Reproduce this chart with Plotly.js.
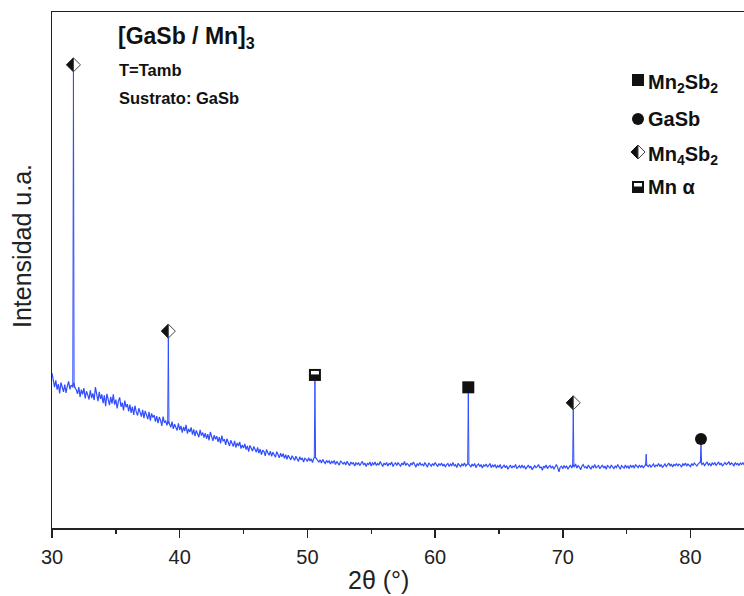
<!DOCTYPE html>
<html>
<head>
<meta charset="utf-8">
<script src="https://cdn.plot.ly/plotly-3.0.1.min.js"></script>
<style>html,body{margin:0;padding:0;background:#fff;}#chart{width:744px;height:596px;}</style>
</head>
<body>
<div id="chart"></div>
<script>
// ---- DATA ----
// Baseline diffractogram, 2θ from 30.0 to 84.2 in 0.1° steps (intensity, a.u.); one row per degree
const thetaStart = 30.0;
const thetaStep = 0.1;
const baseline = [
  30.0, 28.9, 27.3, 28.6, 26.8, 27.9, 26.1, 28.2, 27.0, 26.4,
  27.8, 26.2, 27.5, 28.4, 26.9, 27.7, 27.4, 28.1, 27.2, 26.8,
  26.0, 27.3, 25.4, 26.8, 25.9, 27.1, 25.1, 26.5, 25.8, 24.9,
  26.7, 25.2, 26.1, 24.8, 27.3, 25.6, 24.6, 26.4, 25.0, 25.9,
  24.2, 25.7, 23.6, 26.0, 24.5, 23.8, 25.4, 24.1, 25.9, 23.9,
  24.9, 23.2, 24.6, 25.3, 23.5, 24.3, 22.8, 24.7, 23.4, 24.0,
  22.6, 23.9, 22.3, 23.5, 21.9, 23.7, 22.5, 21.8, 23.2, 22.4,
  21.6, 22.9, 21.3, 22.7, 22.0, 21.1, 22.5, 20.8, 22.2, 21.4,
  21.9, 20.6, 21.7, 20.3, 21.5, 20.9, 19.8, 21.6, 20.4, 20.8,
  19.9, 20.7, 20.2, 19.5, 20.6, 19.2, 20.1, 19.6, 18.9, 20.3,
  19.0, 19.8, 18.5, 19.6, 18.8, 20.0, 18.3, 19.2, 18.6, 19.5,
  18.1, 19.1, 17.8, 18.9, 18.2, 17.6, 19.0, 17.9, 18.5, 17.5,
  18.4, 17.3, 18.2, 17.0, 18.6, 17.5, 16.9, 18.0, 17.2, 17.8,
  16.7, 17.6, 16.4, 17.9, 16.8, 17.2, 16.1, 17.3, 16.6, 15.9,
  17.0, 16.2, 15.8, 16.9, 15.6, 16.5, 15.9, 16.7, 15.4, 16.1,
  15.5, 16.3, 15.2, 15.9, 14.8, 16.0, 15.3, 14.9, 15.8, 15.1,
  14.7, 15.6, 14.5, 15.3, 14.2, 15.1, 14.8, 14.0, 15.2, 14.6,
  14.1, 14.9, 13.9, 14.7, 14.3, 13.7, 14.8, 14.0, 13.6, 14.5,
  13.8, 14.4, 13.5, 14.2, 13.3, 14.1, 13.7, 13.2, 14.0, 13.6,
  13.1, 13.9, 13.4, 12.9, 13.8, 13.2, 13.6, 12.8, 13.5, 13.3,
  12.9, 13.6, 13.0, 13.4, 12.7, 13.5, 13.8, 13.3, 13.1, 12.8,
  13.2, 12.6, 13.3, 12.8, 12.5, 13.1, 12.7, 13.0, 12.4, 12.9,
  12.6, 13.1, 12.3, 12.9, 12.5, 12.2, 13.0, 12.6, 12.4, 12.8,
  12.2, 12.9, 12.5, 12.1, 12.8, 12.4, 12.7, 12.0, 12.6, 12.3,
  12.7, 12.1, 12.5, 12.9, 12.2, 12.6, 11.9, 12.5, 12.3, 12.8,
  12.0, 12.6, 12.3, 12.8, 12.1, 12.5, 12.2, 12.9, 12.4, 11.9,
  12.6, 12.2, 12.7, 12.0, 12.5, 12.3, 12.8, 11.9, 12.4, 12.6,
  12.1, 12.7, 12.3, 12.0, 12.6, 12.2, 12.9, 12.1, 12.5, 12.3,
  11.9, 12.6, 12.2, 12.8, 12.3, 11.8, 12.5, 12.1, 12.7, 12.2,
  12.4, 12.0, 12.7, 12.2, 11.8, 12.6, 12.3, 12.0, 12.5, 12.1,
  12.7, 12.2, 11.9, 12.5, 12.1, 12.6, 12.0, 12.4, 11.8, 12.3,
  12.5, 11.9, 12.4, 12.1, 12.7, 12.0, 12.3, 11.7, 12.5, 12.2,
  11.9, 12.4, 12.1, 12.6, 12.0, 12.3, 12.5, 12.2, 11.8, 12.4,
  12.0, 12.5, 11.7, 12.2, 12.4, 11.9, 12.3, 11.6, 12.2, 12.0,
  12.4, 11.8, 12.1, 12.5, 11.7, 12.2, 11.9, 12.3, 11.6, 12.1,
  11.8, 12.3, 11.5, 12.0, 12.2, 11.7, 12.1, 11.4, 11.9, 12.2,
  11.6, 12.0, 11.8, 12.3, 11.5, 11.9, 12.1, 11.6, 12.2, 11.7,
  12.0, 11.4, 11.9, 12.2, 11.6, 12.0, 11.3, 11.8, 12.1, 11.7,
  11.9, 12.3, 11.6, 11.9, 11.2, 12.0, 11.7, 12.2, 11.5, 11.9,
  12.1, 11.6, 12.0, 11.4, 11.8, 12.3, 11.7, 10.9, 11.8, 12.0,
  11.5, 12.1, 11.7, 12.0, 11.4, 11.9, 12.2, 11.6, 12.3, 11.8,
  12.4, 11.6, 12.1, 11.8, 11.3, 12.0, 12.3, 11.7, 11.9, 11.5,
  12.2, 11.8, 11.4, 12.0, 11.7, 12.3, 11.6, 11.9, 12.1, 11.5,
  11.8, 12.2, 11.6, 12.0, 11.4, 12.1, 11.9, 11.6, 12.2, 11.8,
  11.5, 12.0, 11.7, 12.3, 11.8, 11.4, 12.1, 11.9, 11.6, 12.2,
  11.7, 12.0, 11.5, 12.2, 11.8, 12.1, 11.6, 12.3, 11.9, 11.7,
  12.2, 11.8, 12.1, 11.7, 12.0, 12.4, 12.1, 11.9, 12.3, 11.8,
  12.1, 12.4, 11.8, 12.2, 12.0, 12.5, 11.9, 12.3, 11.7, 12.2,
  12.4, 11.9, 12.3, 12.6, 12.0, 12.4, 11.8, 12.3, 12.1, 12.5,
  12.0, 12.4, 12.2, 11.8, 12.5, 12.1, 12.6, 12.0, 12.4, 12.2,
  11.9, 12.5, 12.1, 12.6, 12.2, 12.0, 12.4, 12.7, 12.9, 12.3,
  12.6, 12.1, 12.4, 12.8, 12.2, 12.5, 12.0, 12.6, 12.3, 12.7,
  12.1, 12.5, 12.8, 12.2, 12.6, 12.0, 12.4, 12.7, 12.3, 12.5,
  12.9, 12.2, 12.6, 12.4, 12.0, 12.7, 12.3, 12.5, 12.1, 12.6,
  12.3, 12.7, 12.2
];
// Diffraction peaks
const peakX     = [31.68, 39.11, 50.59, 62.60, 70.82, 76.53, 80.82];
const peakTop   = [88.4,  36.8,  28.5,  26.1,  22.9,  14.3,  16.1];
const peakBase  = [27.2,  20.2,  13.8,  12.5,  11.9,  12.1,  12.7];
const peakPhase = ['Mn4Sb2', 'Mn4Sb2', 'MnA', 'Mn2Sb2', 'Mn4Sb2', '', 'GaSb'];
// Legend
const legendPhases = ['Mn2Sb2', 'GaSb', 'Mn4Sb2', 'MnA'];
const legendLabels = ['Mn<sub>2</sub>Sb<sub>2</sub>', 'GaSb', 'Mn<sub>4</sub>Sb<sub>2</sub>', 'Mn α'];
// Texts
const sampleTitle = '[GaSb / Mn]<sub>3</sub>';
const sampleInfo = ['T=Tamb', 'Sustrato: GaSb'];
const xTitle = '2θ (°)';
const yTitle = 'Intensidad u.a.';

// ---- LAYOUT HELPERS ----
const W = 744, H = 596, ML = 52, MR = 0, MT = 12, MB = 68;
const PW = W - ML - MR, PH = H - MT - MB;
const px = (x) => (x - ML) / PW;
const py = (y) => (H - MB - y) / PH;
const FONT = 'Arial, "Liberation Sans", sans-serif';
const BLUE = '#2f4cff';
const INK = '#111';

function symbolShapes(kind, xref, yref, ax, ay, cy) {
  const base = {xref: xref, yref: yref, xsizemode: 'pixel', ysizemode: 'pixel', xanchor: ax, yanchor: ay, layer: 'above'};
  const s = [];
  if (kind === 'Mn2Sb2') {
    s.push(Object.assign({}, base, {type: 'rect', x0: -6, x1: 6, y0: cy - 6, y1: cy + 6, fillcolor: INK, line: {width: 0}}));
  } else if (kind === 'GaSb') {
    s.push(Object.assign({}, base, {type: 'circle', x0: -6, x1: 6, y0: cy - 6, y1: cy + 6, fillcolor: INK, line: {width: 0}}));
  } else if (kind === 'Mn4Sb2') {
    s.push(Object.assign({}, base, {type: 'path', path: `M-7,${cy} L0,${cy + 7} L0,${cy - 7} Z`, fillcolor: INK, line: {color: INK, width: 1}}));
    s.push(Object.assign({}, base, {type: 'path', path: `M0,${cy + 7} L7,${cy} L0,${cy - 7} Z`, fillcolor: '#fff', line: {color: '#444', width: 1}}));
  } else if (kind === 'MnA') {
    s.push(Object.assign({}, base, {type: 'rect', x0: -6, x1: 6, y0: cy - 6, y1: cy + 6, fillcolor: INK, line: {width: 0}}));
    s.push(Object.assign({}, base, {type: 'rect', x0: -4, x1: 4, y0: cy + 0.5, y1: cy + 4, fillcolor: '#fff', line: {width: 0}}));
  }
  return s;
}

// ---- TRACES ----
const baseTrace = {
  type: 'scatter', mode: 'lines', x0: thetaStart, dx: thetaStep, y: baseline,
  line: {color: BLUE, width: 1.2}, hoverinfo: 'skip', showlegend: false
};
const pkX = [], pkY = [];
for (let i = 0; i < peakX.length; i++) {
  pkX.push(peakX[i] - 0.05, peakX[i], peakX[i] + 0.05, null);
  pkY.push(peakBase[i], peakTop[i], peakBase[i], null);
}
const peakTrace = {
  type: 'scatter', mode: 'lines', x: pkX, y: pkY,
  line: {color: BLUE, width: 1}, hoverinfo: 'skip', showlegend: false
};

// ---- SHAPES ----
let shapes = [];
for (let i = 0; i < peakX.length; i++) {
  if (!peakPhase[i]) continue;
  const half = peakPhase[i] === 'Mn4Sb2' ? 7 : 6;
  shapes = shapes.concat(symbolShapes(peakPhase[i], 'x', 'y', peakX[i], peakTop[i], half));
}
const legendY = [80, 119, 152, 187];
for (let i = 0; i < legendPhases.length; i++) {
  shapes = shapes.concat(symbolShapes(legendPhases[i], 'paper', 'paper', px(638), py(legendY[i]), 0));
}

// ---- ANNOTATIONS ----
const ann = [];
const txt = (text, x, y, size, opts) => Object.assign({
  text: text, xref: 'paper', yref: 'paper', x: px(x), y: py(y), showarrow: false,
  xanchor: 'left', yanchor: 'middle', font: {family: FONT, size: size, color: INK}
}, opts || {});
ann.push(txt('<b>' + sampleTitle + '</b>', 116, 38, 23));
ann.push(txt('<b>' + sampleInfo[0] + '</b>', 117, 70, 16.5));
ann.push(txt('<b>' + sampleInfo[1] + '</b>', 117, 98, 16.5));
for (let i = 0; i < legendLabels.length; i++) {
  ann.push(txt('<b>' + legendLabels[i] + '</b>', 646, legendY[i] + (legendLabels[i].indexOf('sub') >= 0 ? 3 : 0), 20));
}
ann.push(txt(xTitle, 378, 580, 25, {xanchor: 'center', borderpad: 0, font: {family: FONT, size: 25, color: '#222'}}));
ann.push(txt(yTitle, 22, 246, 25, {xanchor: 'center', textangle: -90, font: {family: FONT, size: 25, color: '#222'}}));

const layout = {
  width: W, height: H,
  margin: {l: ML, r: MR, t: MT, b: MB, pad: 0},
  paper_bgcolor: '#fff', plot_bgcolor: '#fff',
  showlegend: false,
  xaxis: {
    range: [30, 84.19], tick0: 30, dtick: 10,
    ticks: 'outside', ticklen: 8, tickwidth: 1.5, tickcolor: '#222', ticklabelstandoff: 2,
    minor: {dtick: 5, ticks: 'outside', ticklen: 4, tickwidth: 1.5, tickcolor: '#222'},
    showline: true, linewidth: 1.5, linecolor: '#222', mirror: true,
    showgrid: false, zeroline: false,
    tickfont: {family: FONT, size: 20, color: '#222'}
  },
  yaxis: {
    range: [0, 100], showline: true, linewidth: 1.5, linecolor: '#222',
    ticks: '', showticklabels: false, showgrid: false, zeroline: false
  },
  shapes: shapes,
  annotations: ann
};
Plotly.newPlot('chart', [baseTrace, peakTrace], layout, {displayModeBar: false, staticPlot: true});
</script>
</body>
</html>
